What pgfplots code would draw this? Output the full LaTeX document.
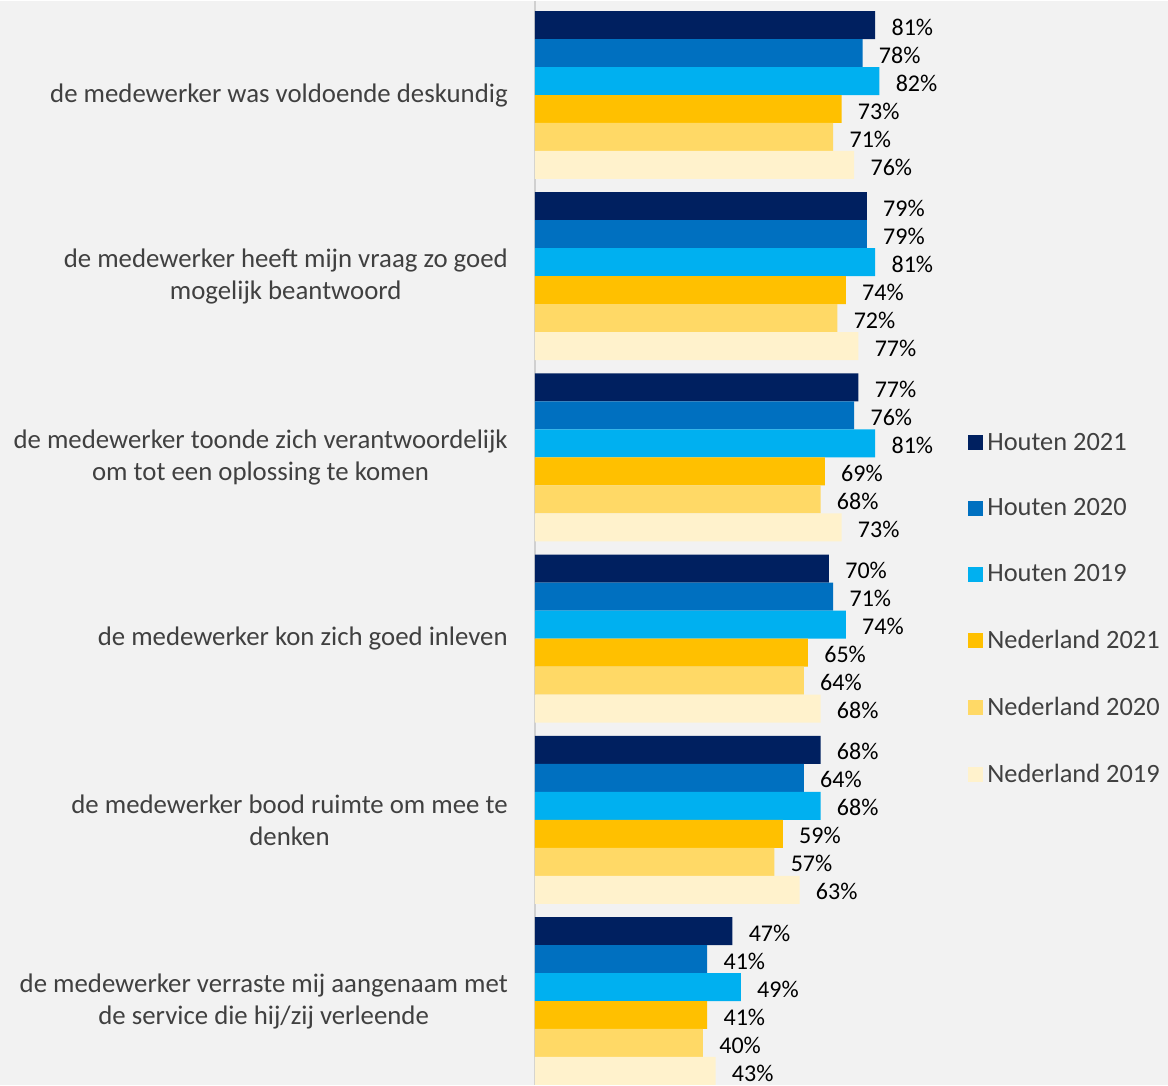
\documentclass[border=0pt]{standalone}
\usepackage{fontspec}
\setmainfont{Carlito}
\usepackage{pgfplots}
\pgfplotsset{compat=1.18}
\definecolor{hA}{HTML}{002060}
\definecolor{hB}{HTML}{0070C0}
\definecolor{hC}{HTML}{00B0F0}
\definecolor{nA}{HTML}{FFC000}
\definecolor{nB}{HTML}{FFD966}
\definecolor{nC}{HTML}{FFF2CC}
\definecolor{bg}{HTML}{F2F2F2}
\definecolor{axgray}{HTML}{D0D0D0}
\definecolor{labgray}{HTML}{404040}
\begin{document}
\begin{tikzpicture}
\fill[bg] (-267.5pt,0pt) rectangle (316.5pt,542pt);
\begin{axis}[
  at={(0pt,0pt)}, anchor=south west,
  scale only axis, width=212.5pt, height=542pt,
  xmin=0, xmax=101.19, ymin=-0.5188, ymax=5.4636, y dir=reverse,
  clip=false,
  xbar, bar width=0.1545, bar shift=0pt,
  axis x line=none, axis y line*=left,
  y axis line style={draw=axgray, line width=1pt},
  ytick={0,1,2,3,4,5},
  yticklabels={
    de medewerker was voldoende deskundig,
    de medewerker heeft mijn vraag zo goed\\mogelijk beantwoord,
    de medewerker toonde zich verantwoordelijk\\om tot een oplossing te komen,
    de medewerker kon zich goed inleven,
    de medewerker bood ruimte om mee te\\denken,
    de medewerker verraste mij aangenaam met\\de service die hij/zij verleende},
  major tick length=0pt,
  yticklabel style={align=center, anchor=east, inner sep=0pt, xshift=-13.5pt,
    font=\fontsize{13.4}{16}\selectfont, text=labgray},
  point meta=x,
  nodes near coords={\pgfmathprintnumber[assume math mode=true]{\pgfplotspointmeta}\%},
  every node near coord/.append style={anchor=west, inner sep=0pt, xshift=8pt, yshift=-1pt,
    font=\fontsize{12}{14}\selectfont, text=black},
  legend cell align=left,
  legend image code/.code={\fill[#1] (0pt,-3.75pt) rectangle (7.5pt,3.75pt);},
  legend style={at={(rel axis cs:1.0188,0.6056)}, anchor=north west, draw=none, fill=none,
    font=\fontsize{13.2}{16}\selectfont, text=labgray, row sep=18.8pt, inner sep=0pt},
]
\addplot[fill=hA, draw=none] coordinates {(81,-0.38625) (79,0.61375) (77,1.61375) (70,2.61375) (68,3.61375) (47,4.61375)};
\addplot[fill=hB, draw=none] coordinates {(78,-0.23175) (79,0.76825) (76,1.76825) (71,2.76825) (64,3.76825) (41,4.76825)};
\addplot[fill=hC, draw=none] coordinates {(82,-0.07725) (81,0.92275) (81,1.92275) (74,2.92275) (68,3.92275) (49,4.92275)};
\addplot[fill=nA, draw=none] coordinates {(73,0.07725) (74,1.07725) (69,2.07725) (65,3.07725) (59,4.07725) (41,5.07725)};
\addplot[fill=nB, draw=none] coordinates {(71,0.23175) (72,1.23175) (68,2.23175) (64,3.23175) (57,4.23175) (40,5.23175)};
\addplot[fill=nC, draw=none] coordinates {(76,0.38625) (77,1.38625) (73,2.38625) (68,3.38625) (63,4.38625) (43,5.38625)};
\legend{Houten 2021, Houten 2020, Houten 2019, Nederland 2021, Nederland 2020, Nederland 2019}
\end{axis}
\end{tikzpicture}
\end{document}
